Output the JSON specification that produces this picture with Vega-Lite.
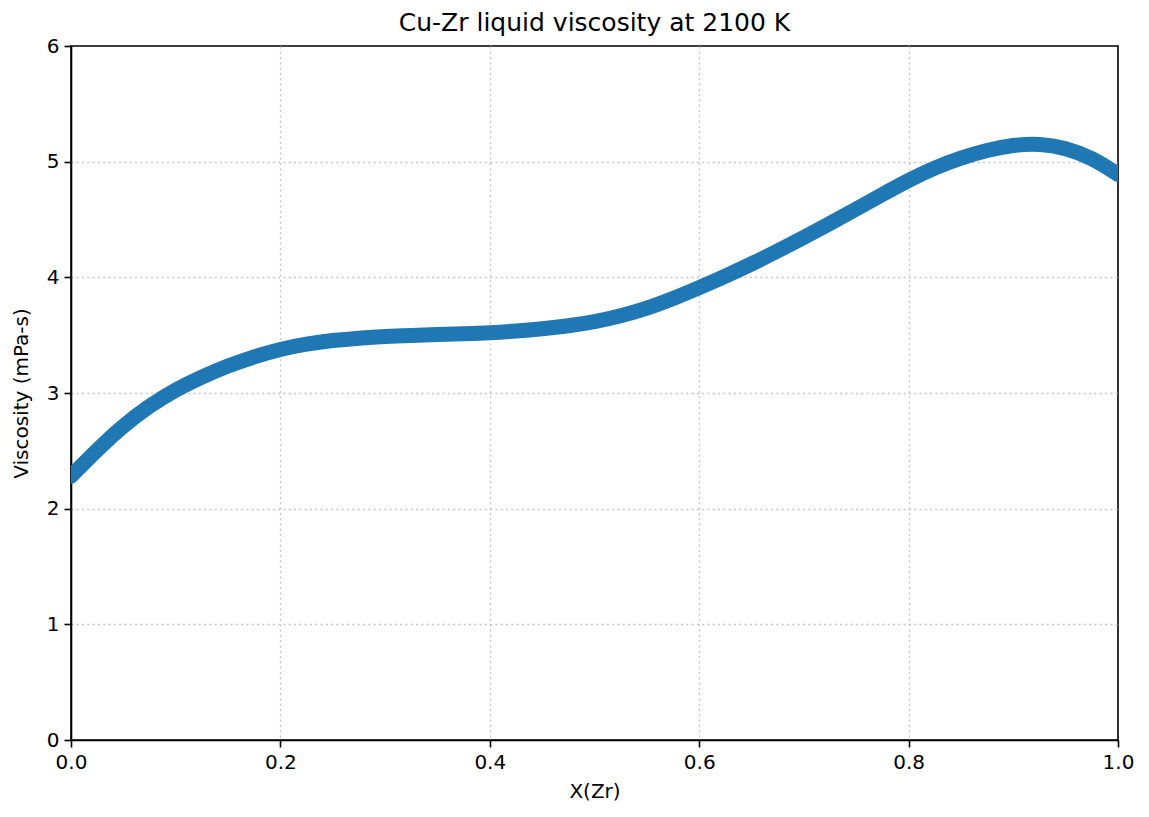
{
  "$schema": "https://vega.github.io/schema/vega-lite/v6.json",
  "description": "Cu-Zr liquid viscosity at 2100 K",
  "autosize": {"type": "none"},
  "padding": {"left": 71, "top": 46, "right": 31, "bottom": 77},
  "width": 1047,
  "height": 694,
  "background": "white",
  "title": {
    "text": "Cu-Zr liquid viscosity at 2100 K",
    "font": "DejaVu Sans",
    "fontSize": 25,
    "fontWeight": "normal",
    "color": "black",
    "anchor": "middle",
    "offset": 0
  },
  "data": {
    "values": [
      {"x": 0.0, "visc": 2.28},
      {"x": 0.025, "visc": 2.51},
      {"x": 0.05, "visc": 2.72},
      {"x": 0.075, "visc": 2.89},
      {"x": 0.1, "visc": 3.03},
      {"x": 0.125, "visc": 3.14},
      {"x": 0.15, "visc": 3.235},
      {"x": 0.175, "visc": 3.315},
      {"x": 0.2, "visc": 3.38},
      {"x": 0.225, "visc": 3.425},
      {"x": 0.25, "visc": 3.455},
      {"x": 0.275, "visc": 3.475},
      {"x": 0.3, "visc": 3.49},
      {"x": 0.325, "visc": 3.498},
      {"x": 0.35, "visc": 3.505},
      {"x": 0.375, "visc": 3.512},
      {"x": 0.4, "visc": 3.52},
      {"x": 0.425, "visc": 3.535},
      {"x": 0.45, "visc": 3.555},
      {"x": 0.475, "visc": 3.58},
      {"x": 0.5, "visc": 3.615},
      {"x": 0.525, "visc": 3.665},
      {"x": 0.55, "visc": 3.73},
      {"x": 0.575, "visc": 3.815},
      {"x": 0.6, "visc": 3.91},
      {"x": 0.625, "visc": 4.01},
      {"x": 0.65, "visc": 4.115},
      {"x": 0.675, "visc": 4.228},
      {"x": 0.7, "visc": 4.345},
      {"x": 0.725, "visc": 4.467},
      {"x": 0.75, "visc": 4.59},
      {"x": 0.775, "visc": 4.717},
      {"x": 0.8, "visc": 4.84},
      {"x": 0.825, "visc": 4.947},
      {"x": 0.85, "visc": 5.033},
      {"x": 0.875, "visc": 5.1},
      {"x": 0.9, "visc": 5.145},
      {"x": 0.925, "visc": 5.157},
      {"x": 0.95, "visc": 5.12},
      {"x": 0.975, "visc": 5.035},
      {"x": 1.0, "visc": 4.89}
    ]
  },
  "mark": {
    "type": "line",
    "color": "#1f77b4",
    "strokeWidth": 15,
    "strokeCap": "round",
    "strokeJoin": "round",
    "interpolate": "basis",
    "clip": true
  },
  "encoding": {
    "x": {
      "field": "x",
      "type": "quantitative",
      "title": "X(Zr)",
      "scale": {"domain": [0, 1], "nice": false, "zero": false},
      "axis": {
        "values": [0, 0.2, 0.4, 0.6, 0.8, 1.0],
        "format": ".1f",
        "gridOpacity": {"condition": {"test": "datum.value <= 0 || datum.value >= 1", "value": 0}, "value": 1}
      }
    },
    "y": {
      "field": "visc",
      "type": "quantitative",
      "title": "Viscosity (mPa-s)",
      "scale": {"domain": [0, 6], "nice": false},
      "axis": {
        "values": [0, 1, 2, 3, 4, 5, 6],
        "format": "d",
        "gridOpacity": {"condition": {"test": "datum.value <= 0 || datum.value >= 6", "value": 0}, "value": 1}
      }
    }
  },
  "config": {
    "view": {"stroke": "black", "strokeWidth": 1.6},
    "axis": {
      "labelFont": "DejaVu Sans",
      "labelFontSize": 20,
      "labelColor": "black",
      "titleFont": "DejaVu Sans",
      "titleFontSize": 20,
      "titleFontWeight": "normal",
      "titleColor": "black",
      "domainColor": "black",
      "domainWidth": 1.6,
      "tickColor": "black",
      "tickWidth": 1.6,
      "tickSize": 7,
      "labelPadding": 5,
      "grid": true,
      "gridColor": "#c4c4c4",
      "gridDash": [2, 3.3],
      "gridWidth": 1.3,
      "labelFlush": false
    },
    "axisX": {"titlePadding": 9},
    "axisY": {"titlePadding": 15}
  }
}
